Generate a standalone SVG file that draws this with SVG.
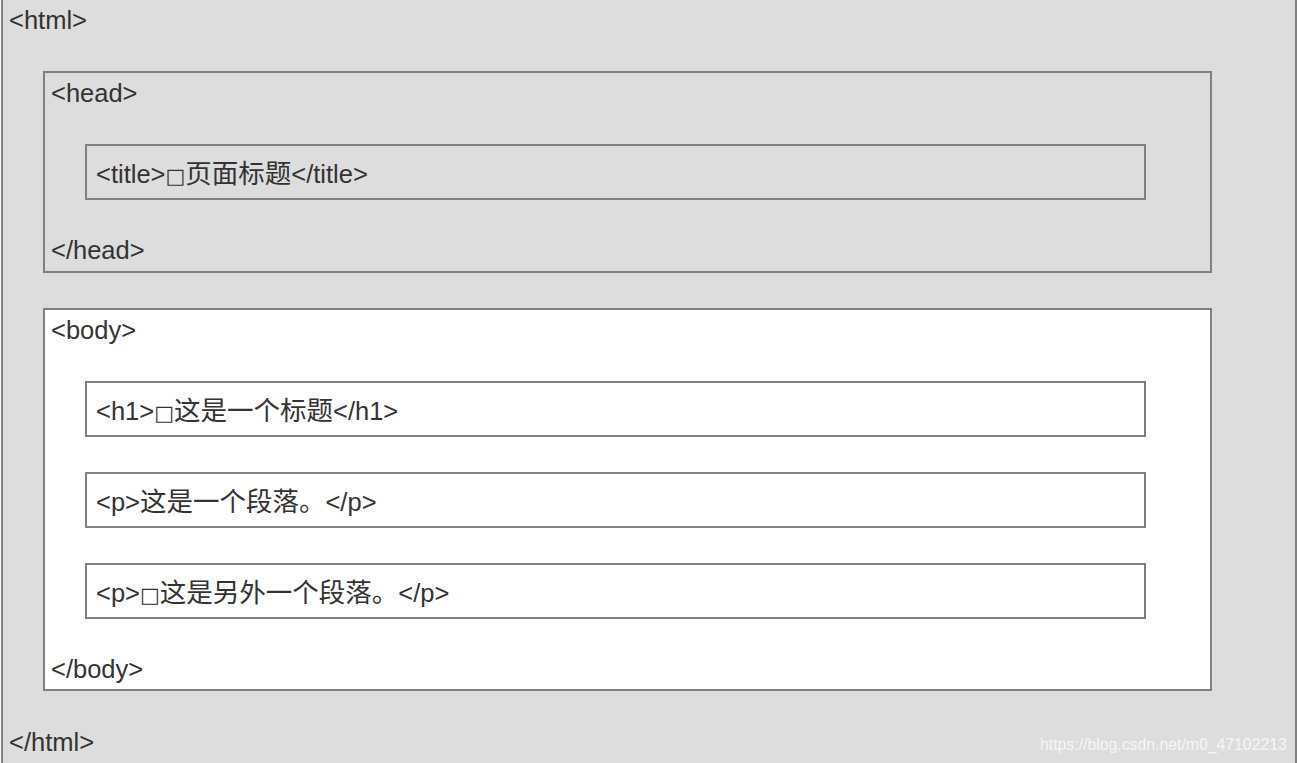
<svg xmlns="http://www.w3.org/2000/svg" width="1297" height="763" viewBox="0 0 1297 763">
<style>
.box{stroke:#808080;stroke-width:2}
.grey{fill:#dddddd}
.white{fill:#ffffff}
.t{font-family:"Liberation Sans","Noto Sans CJK SC",sans-serif;font-size:25.5px;fill:#333333}
.cj{font-family:"Noto Sans CJK SC",sans-serif;font-size:26.5px}
.tofu{font-family:"DejaVu Sans",sans-serif;font-size:21px}
.wm{font-family:"Liberation Sans",Arial,sans-serif;font-size:15.8px;fill:#ffffff;fill-opacity:0.75}
</style>
<g id="html">
<rect class="box grey" x="2" y="-10" width="1294" height="783"/>
<text class="t" x="9" y="29">&lt;html&gt;</text>
<text class="t" x="9" y="751">&lt;/html&gt;</text>
</g>
<g id="head">
<rect class="box grey" x="44" y="72" width="1167" height="200"/>
<text class="t" x="51" y="102">&lt;head&gt;</text>
<text class="t" x="51" y="259">&lt;/head&gt;</text>
</g>
<g id="title">
<rect class="box grey" x="86" y="145" width="1059" height="54"/>
<text class="t" x="96" y="183">&lt;title&gt;<tspan class="tofu">□</tspan><tspan class="cj">页面标题</tspan>&lt;/title&gt;</text>
</g>
<g id="body">
<rect class="box white" x="44" y="309" width="1167" height="381"/>
<text class="t" x="51" y="339">&lt;body&gt;</text>
<text class="t" x="51" y="678">&lt;/body&gt;</text>
</g>
<g id="h1">
<rect class="box white" x="86" y="382" width="1059" height="54"/>
<text class="t" x="96" y="420">&lt;h1&gt;<tspan class="tofu">□</tspan><tspan class="cj">这是一个标题</tspan>&lt;/h1&gt;</text>
</g>
<g id="p1">
<rect class="box white" x="86" y="473" width="1059" height="54"/>
<text class="t" x="96" y="511">&lt;p&gt;<tspan class="cj">这是一个段落。</tspan>&lt;/p&gt;</text>
</g>
<g id="p2">
<rect class="box white" x="86" y="564" width="1059" height="54"/>
<text class="t" x="96" y="602">&lt;p&gt;<tspan class="tofu">□</tspan><tspan class="cj">这是另外一个段落。</tspan>&lt;/p&gt;</text>
</g>
<g id="connectors"/>
<text class="wm" x="1040" y="750">https://blog.csdn.net/m0_47102213</text>
</svg>
